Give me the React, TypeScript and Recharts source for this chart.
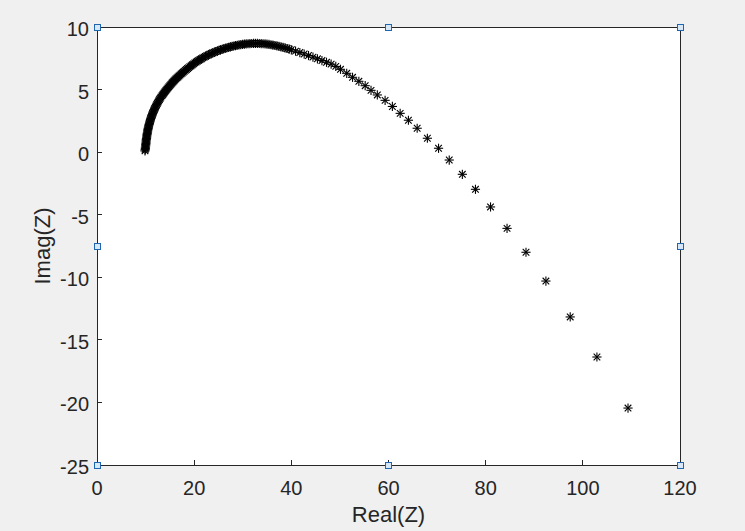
import { ScatterChart, Scatter, XAxis, YAxis, Label } from "recharts";

// impedance readings (Real, Imag)
const realZ = [
  9.88, 9.92, 9.95, 9.98, 10.01, 10.04, 10.07, 10.1, 10.12, 10.15, 10.19, 10.22, 10.26, 10.3, 10.34,
  10.39, 10.43, 10.48, 10.53, 10.59, 10.65, 10.72, 10.79, 10.86, 10.93, 11.01, 11.09, 11.18, 11.27,
  11.36, 11.46, 11.56, 11.67, 11.78, 11.9, 12.02, 12.15, 12.28, 12.41, 12.55, 12.69, 12.84, 12.99, 13.15,
  13.35, 13.5, 13.65, 13.8, 13.95, 14.11, 14.27, 14.43, 14.6, 14.77, 14.94, 15.12, 15.3, 15.48, 15.67,
  15.86, 16.05, 16.25, 16.45, 16.65, 16.86, 17.07, 17.28, 17.5, 17.72, 17.94, 18.17, 18.4, 18.64,
  18.88, 19.12, 19.37, 19.62, 19.87, 20.13, 20.4, 20.66, 20.93, 21.2, 21.48, 21.76, 22.04, 22.33,
  22.62, 22.92, 23.22, 23.52, 23.83, 24.14, 24.45, 24.77, 25.1, 25.42, 25.75, 26.08, 26.42, 26.76,
  27.1, 27.45, 27.8, 28.15, 28.51, 28.87, 29.23, 29.6, 29.97, 30.34, 30.71, 31.09, 31.47, 31.85,
  32.23, 32.62, 33.01, 33.4, 33.8, 34.19, 34.59, 34.99, 35.4, 35.8, 36.21, 36.62, 37.03, 37.45,
  37.87, 38.29, 38.71, 39.14, 39.57,
  40.0, 40.87, 41.75, 42.64, 43.54, 44.45, 45.37, 46.3, 47.24, 48.19, 49.15, 50.12,
  51.4, 52.6, 53.9, 55.2, 56.4, 57.7, 59.3, 60.8, 62.4, 64.1, 65.9, 68.0, 70.3, 72.5, 75.2, 77.9,
  81.0, 84.4, 88.3, 92.4, 97.4, 102.9, 109.3,
];
const imagZ = [
  0.1, 0.2, 0.3, 0.4, 0.5, 0.6, 0.7, 0.8, 0.9, 1.0, 1.1, 1.2, 1.3, 1.4, 1.5,
  1.6, 1.7, 1.8, 1.9, 2.0, 2.1, 2.2, 2.3, 2.4, 2.5, 2.6, 2.7, 2.8, 2.9,
  3.0, 3.1, 3.2, 3.3, 3.4, 3.5, 3.6, 3.7, 3.8, 3.9, 4.0, 4.1, 4.2, 4.3, 4.4,
  4.5, 4.58, 4.66, 4.74, 4.82, 4.9, 4.98, 5.06, 5.14, 5.22, 5.3, 5.38, 5.46, 5.54, 5.62,
  5.7, 5.78, 5.86, 5.93, 6.0, 6.08, 6.15, 6.23, 6.3, 6.38, 6.45, 6.53, 6.6, 6.68,
  6.75, 6.83, 6.9, 6.98, 7.05, 7.13, 7.2, 7.27, 7.33, 7.4, 7.46, 7.53, 7.59, 7.65,
  7.71, 7.77, 7.83, 7.88, 7.93, 7.98, 8.03, 8.08, 8.13, 8.17, 8.22, 8.26, 8.3, 8.34,
  8.38, 8.41, 8.45, 8.48, 8.51, 8.54, 8.57, 8.59, 8.61, 8.63, 8.65, 8.66, 8.67, 8.68,
  8.69, 8.69, 8.69, 8.68, 8.67, 8.66, 8.65, 8.63, 8.61, 8.58, 8.55, 8.52, 8.49, 8.45,
  8.41, 8.37, 8.33, 8.28, 8.23,
  8.18, 8.07, 7.96, 7.84, 7.72, 7.59, 7.46, 7.32, 7.18, 7.03, 6.85, 6.62,
  6.3, 5.98, 5.66, 5.31, 4.94, 4.57, 4.14, 3.65, 3.1, 2.55, 1.91, 1.11, 0.31, -0.63, -1.77, -2.97,
  -4.38, -6.09, -8.0, -10.3, -13.17, -16.37, -20.45,
];

const xTicks = [0, 20, 40, 60, 80, 100, 120];
const yTicks = [-25, -20, -15, -10, -5, 0, 5, 10];

// figure selection handles (corners + edge midpoints)
const handleX = [0, 60, 120, 0, 120, 0, 60, 120];
const handleY = [10, 10, 10, -7.5, -7.5, -25, -25, -25];

const points = realZ.map((re, i) => ({ re, im: imagZ[i] }));
const handles = handleX.map((re, i) => ({ re, im: handleY[i] }));

const axisColor = "#262626";
const font = "'Liberation Sans', Arial, sans-serif";
const lineStyle = { stroke: axisColor, strokeWidth: 1, shapeRendering: "crispEdges" };
const TICK = 5;

// axes are mirrored so recharts draws the tick lines inward (MATLAB box style);
// the labels are then pushed back outside by hand
function BottomLabel({ x, y, payload }: any) {
  return (
    <text x={x} y={y + TICK + 29.5} textAnchor="middle" fill={axisColor} fontSize={20} fontFamily={font}>
      {payload.value}
    </text>
  );
}

function LeftLabel({ x, y, payload }: any) {
  return (
    <text x={x - TICK - 8} y={y + 9} textAnchor="end" fill={axisColor} fontSize={20} fontFamily={font}>
      {payload.value}
    </text>
  );
}

const noLabel = () => <g />;

function Asterisk(props: any) {
  const { cx, cy } = props;
  const r = 4.6;
  const d = 3.3;
  return (
    <g stroke="#000" strokeWidth={1.1}>
      <line x1={cx - r} y1={cy} x2={cx + r} y2={cy} />
      <line x1={cx} y1={cy - r} x2={cx} y2={cy + r} />
      <line x1={cx - d} y1={cy - d} x2={cx + d} y2={cy + d} />
      <line x1={cx - d} y1={cy + d} x2={cx + d} y2={cy - d} />
    </g>
  );
}

function Handle(props: any) {
  const { cx, cy } = props;
  return (
    <rect
      x={cx - 3}
      y={cy - 3}
      width={6}
      height={6}
      fill="#d6e7f7"
      stroke="#1e66b0"
      strokeWidth={1}
      shapeRendering="crispEdges"
    />
  );
}

export default function App() {
  return (
    <div
      style={{
        position: "fixed",
        left: 0,
        top: 0,
        width: 745,
        height: 531,
        background: "#f0f0f0",
        fontFamily: font,
      }}
    >
      {/* white axes box behind the transparent chart surface */}
      <div style={{ position: "absolute", left: 97, top: 27, width: 583, height: 438, background: "#fff" }} />
      <div style={{ position: "absolute", left: 0, top: 0 }}>
        <ScatterChart width={745} height={531} margin={{ top: 27, right: 65, bottom: 66, left: 97 }}>
          <XAxis
            dataKey="re"
            type="number"
            domain={[0, 120]}
            ticks={xTicks}
            height={1}
            mirror
            tickSize={TICK}
            tickMargin={0}
            axisLine={lineStyle}
            tickLine={lineStyle}
            tick={BottomLabel}
          >
            <Label value="Real(Z)" position="bottom" offset={41} fill={axisColor} fontSize={22} fontFamily={font} />
          </XAxis>
          <XAxis
            xAxisId="top"
            orientation="top"
            type="number"
            domain={[0, 120]}
            ticks={xTicks}
            height={1}
            mirror
            tickSize={TICK}
            tickMargin={0}
            axisLine={lineStyle}
            tickLine={lineStyle}
            tick={noLabel}
          />
          <YAxis
            dataKey="im"
            type="number"
            domain={[-25, 10]}
            ticks={yTicks}
            width={1}
            mirror
            tickSize={TICK}
            tickMargin={0}
            axisLine={lineStyle}
            tickLine={lineStyle}
            tick={LeftLabel}
          >
            <Label
              value="Imag(Z)"
              angle={-90}
              position="left"
              offset={55}
              fill={axisColor}
              fontSize={22}
              fontFamily={font}
              style={{ textAnchor: "middle" }}
            />
          </YAxis>
          <YAxis
            yAxisId="right"
            orientation="right"
            type="number"
            domain={[-25, 10]}
            ticks={yTicks}
            width={1}
            mirror
            tickSize={TICK}
            tickMargin={0}
            axisLine={lineStyle}
            tickLine={lineStyle}
            tick={noLabel}
          />
          <Scatter data={points} shape={Asterisk} isAnimationActive={false} />
          <Scatter data={handles} shape={Handle} isAnimationActive={false} />
        </ScatterChart>
      </div>
    </div>
  );
}
